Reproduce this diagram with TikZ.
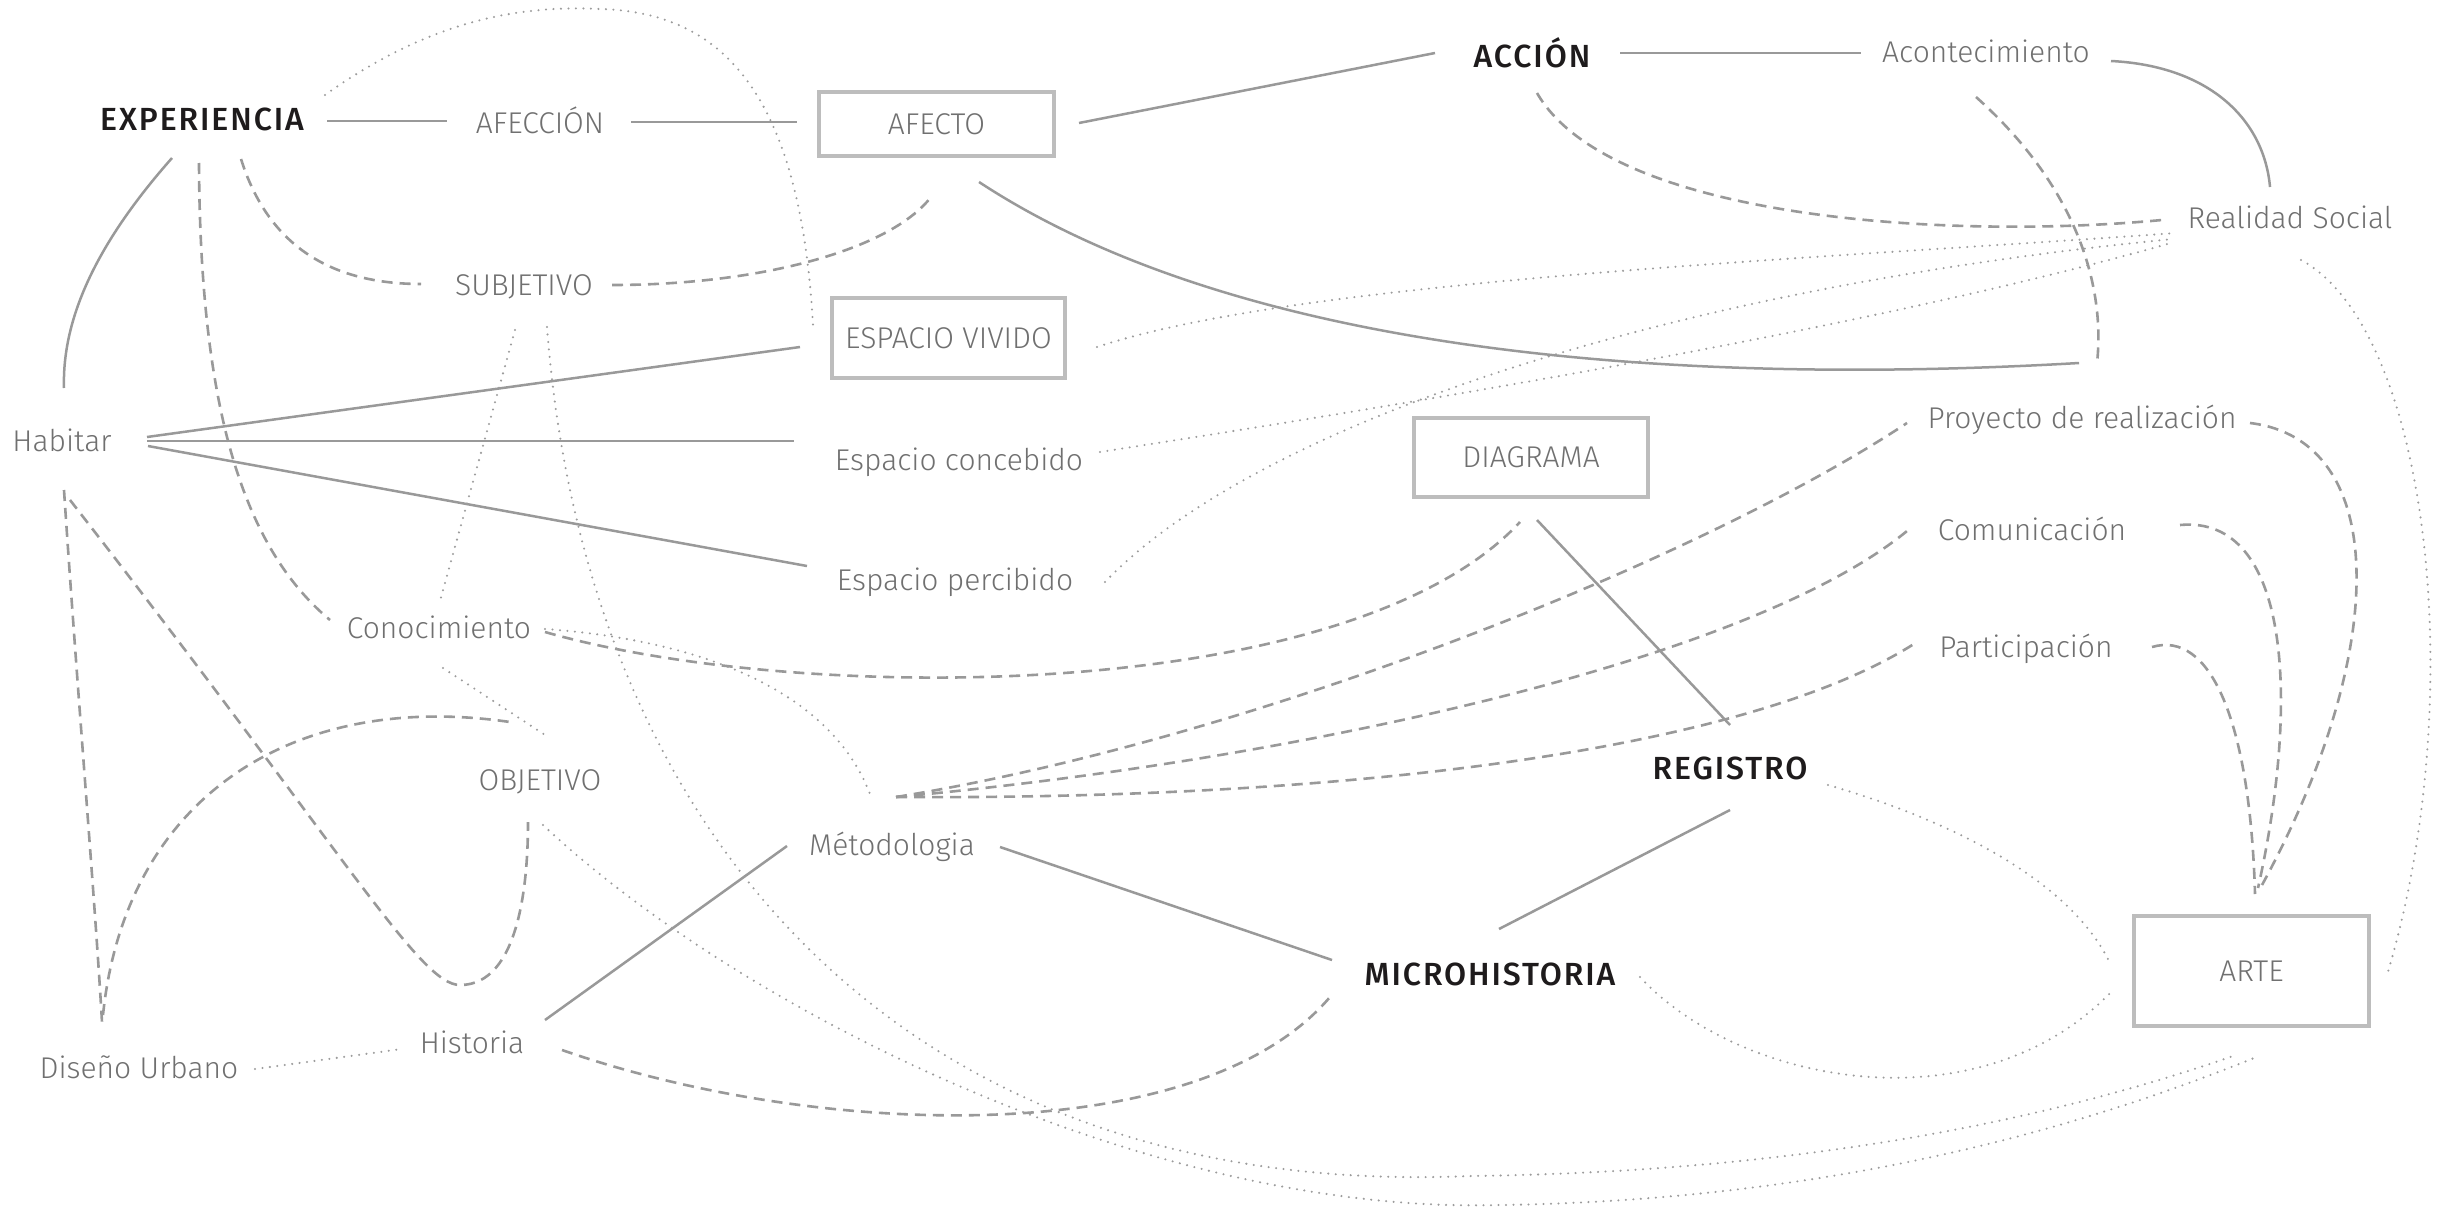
\documentclass[tikz,border=0pt]{standalone}
\usepackage{fontspec}
\IfFontExistsTF{Fira Sans Light}{\newfontfamily\lightf{Fira Sans Light}}{\newfontfamily\lightf{Fira Sans}}
\IfFontExistsTF{Fira Sans Medium}{\newfontfamily\boldf{Fira Sans Medium}[LetterSpace=6]}{\newfontfamily\boldf{Fira Sans}[LetterSpace=6]}
\definecolor{txtgray}{HTML}{707070}
\definecolor{txtdark}{HTML}{1E1B1C}
\definecolor{lngray}{HTML}{999999}
\definecolor{dotgray}{HTML}{9C9C9C}
\definecolor{boxgray}{HTML}{BDBDBD}
\tikzset{
  lbl/.style={font=\lightf\fontsize{30}{36}\selectfont, text=txtgray, inner sep=0pt, anchor=base},
  big/.style={font=\boldf\fontsize{32}{38}\selectfont, text=txtdark, inner sep=0pt, anchor=base},
  box/.style={draw=boxgray, line width=3.5pt, font=\lightf\fontsize{30}{36}\selectfont, text=txtgray, inner sep=0pt, anchor=center},
  solidln/.style={draw=lngray, line width=2.5pt},
  dashln/.style={draw=lngray, line width=2.6pt, dash pattern=on 11pt off 7pt},
  dotln/.style={draw=dotgray, line width=2.3pt, line cap=round, dash pattern=on 0pt off 7.5pt},
}
\begin{document}
\begin{tikzpicture}[x=1pt,y=-1pt]
\useasboundingbox[fill=white] (0,0) rectangle (2451,1207);
% ---------- nodes ----------
\node[big] (exp) at (202,130) {EXPERIENCIA};
\node[big] (accion) at (1532,67) {ACCIÓN};
\node[big] (registro) at (1730,779) {REGISTRO};
\node[big] (micro) at (1490,985) {MICROHISTORIA};
\node[lbl] (afeccion) at (540,133) {AFECCIÓN};
\node[lbl] (subj) at (524,295) {SUBJETIVO};
\node[lbl] (acont) at (1986,63) {Acontecimiento};
\node[lbl] (realidad) at (2290,228) {Realidad Social};
\node[lbl] (habitar) at (62,451) {Habitar};
\node[lbl] (concebido) at (959,470) {Espacio concebido};
\node[lbl] (percibido) at (955,590) {Espacio percibido};
\node[lbl] (conoc) at (439,638) {Conocimiento};
\node[lbl] (objetivo) at (540,790) {OBJETIVO};
\node[lbl] (metodo) at (892,855) {Métodologia};
\node[lbl] (historia) at (472,1053) {Historia};
\node[lbl] (diseno) at (139,1078) {Diseño Urbano};
\node[lbl] (proyecto) at (2082,428) {Proyecto de realización};
\node[lbl] (comun) at (2032,540) {Comunicación};
\node[lbl] (partic) at (2026,657) {Participación};
\node[box, minimum width=235pt, minimum height=64pt] (afecto) at (936.5,124) {AFECTO};
\node[box, minimum width=233pt, minimum height=80pt] (vivido) at (948.5,338) {ESPACIO VIVIDO};
\node[box, minimum width=234pt, minimum height=79pt] (diagrama) at (1531,457.5) {DIAGRAMA};
\node[box, minimum width=235pt, minimum height=110pt] (arte) at (2251.5,971) {ARTE};
\coordinate (junction) at (2088,363);
% ---------- solid ----------
\draw[solidln] ([shift={(125,-9)}]exp.base) -- ([shift={(-93,-12)}]afeccion.base);
\draw[solidln] ([shift={(91,-11)}]afeccion.base) -- ([shift={(-139.5,-2)}]afecto.center);
\draw[solidln] ([shift={(142.5,-1)}]afecto.center) -- ([shift={(-97,-14)}]accion.base);
\draw[solidln] ([shift={(88,-14)}]accion.base) -- ([shift={(-125,-10)}]acont.base);
\draw[solidln] ([shift={(125,-2)}]acont.base) .. controls (2210,66) and (2264,120) .. ([shift={(-20,-41)}]realidad.base);
\draw[solidln] ([shift={(42.5,58)}]afecto.center) .. controls (1250,360) and (1700,385) .. ([xshift=-9pt]junction);
\draw[solidln] ([shift={(-30,28)}]exp.base) .. controls (95,245) and (62,320) .. ([shift={(2,-63)}]habitar.base);
\draw[solidln] ([shift={(85,-14)}]habitar.base) -- ([shift={(-148.5,9)}]vivido.center);
\draw[solidln] ([shift={(85,-10)}]habitar.base) -- ([shift={(-165,-29)}]concebido.base);
\draw[solidln] ([shift={(86,-5)}]habitar.base) -- ([shift={(-148,-24)}]percibido.base);
\draw[solidln] ([shift={(6,62.5)}]diagrama.center) -- ([shift={(0,-54)}]registro.base);
\draw[solidln] ([shift={(0,31)}]registro.base) -- ([shift={(9,-56)}]micro.base);
\draw[solidln] ([shift={(108,-8)}]metodo.base) -- ([shift={(-158,-25)}]micro.base);
\draw[solidln] ([shift={(-105,-9)}]metodo.base) -- ([shift={(73,-33)}]historia.base);
% ---------- dashed ----------
\draw[dashln] ([shift={(-10,34)}]acont.base) .. controls (2080,190) and (2105,290) .. ([xshift=9pt]junction);
\draw[dashln] ([shift={(5,26)}]accion.base) .. controls (1610,220) and (1950,240) .. ([shift={(-128,-8)}]realidad.base);
\draw[dashln] ([shift={(39,29)}]exp.base) .. controls (268,245) and (330,284) .. ([shift={(-103,-11)}]subj.base);
\draw[dashln] ([shift={(88,-10)}]subj.base) .. controls (760,285) and (890,250) .. ([shift={(-5.5,73)}]afecto.center);
\draw[dashln] ([shift={(-3,33)}]exp.base) .. controls (200,400) and (240,545) .. ([shift={(-109,-18)}]conoc.base);
\draw[dashln] ([shift={(2,39)}]habitar.base) .. controls (78,700) and (95,900) .. ([shift={(-37,-56)}]diseno.base);
\draw[dashln] ([shift={(8,49)}]habitar.base) .. controls (350,860) and (420,985) .. (460,985) .. controls (520,985) and (528,880) .. ([shift={(-12,32)}]objetivo.base);
\draw[dashln] ([shift={(-36,-63)}]diseno.base) .. controls (125,800) and (290,690) .. ([shift={(-30,-68)}]objetivo.base);
\draw[dashln] ([shift={(106,-6)}]conoc.base) .. controls (800,705) and (1350,705) .. ([shift={(-11,64.5)}]diagrama.center);
\draw[dashln] ([shift={(90,-3)}]historia.base) .. controls (820,1140) and (1200,1150) .. ([shift={(-160,12)}]micro.base);
\draw[dashln] ([shift={(4,-58)}]metodo.base) .. controls (1250,740) and (1700,560) .. ([shift={(-175,-5)}]proyecto.base);
\draw[dashln] ([shift={(4,-58)}]metodo.base) .. controls (1300,760) and (1750,660) .. ([shift={(-125,-9)}]comun.base);
\draw[dashln] ([shift={(4,-58)}]metodo.base) .. controls (1350,800) and (1750,750) .. ([shift={(-109,-15)}]partic.base);
\draw[dashln] ([shift={(168,-5)}]proyecto.base) .. controls (2390,440) and (2390,650) .. ([shift={(10.5,-86)}]arte.center);
\draw[dashln] ([shift={(148,-15)}]comun.base) .. controls (2290,515) and (2300,700) .. ([shift={(6.5,-83)}]arte.center);
\draw[dashln] ([shift={(126,-10)}]partic.base) .. controls (2210,630) and (2250,720) .. ([shift={(3.5,-77)}]arte.center);
% ---------- dotted ----------
\draw[dotln] ([shift={(123,-35)}]exp.base) .. controls (430,20) and (520,5) .. (600,9) .. controls (720,12) and (800,90) .. ([shift={(-135.5,-13)}]vivido.center);
\draw[dotln] ([shift={(-9,35)}]subj.base) -- ([shift={(1,-37)}]conoc.base);
\draw[dotln] ([shift={(23,32)}]subj.base) .. controls (585,830) and (900,1200) .. (1470,1176) .. controls (1800,1172) and (2050,1120) .. ([shift={(-15.5,84)}]arte.center);
\draw[dotln] ([shift={(3,35)}]objetivo.base) .. controls (740,1010) and (1150,1215) .. (1500,1205) .. controls (1850,1200) and (2100,1120) .. ([shift={(2.5,87)}]arte.center);
\draw[dotln] ([shift={(106,-9)}]conoc.base) .. controls (700,640) and (830,690) .. ([shift={(-22,-61)}]metodo.base);
\draw[dotln] ([shift={(4,30)}]conoc.base) -- ([shift={(5,-55)}]objetivo.base);
\draw[dotln] ([shift={(116,-9)}]diseno.base) -- ([shift={(-70,-4)}]historia.base);
\draw[dotln] ([shift={(148.5,9)}]vivido.center) .. controls (1300,280) and (1800,260) .. ([shift={(-114,5)}]realidad.base);
\draw[dotln] ([shift={(141,-18)}]concebido.base) .. controls (1500,390) and (1900,320) .. ([shift={(-119,15)}]realidad.base);
\draw[dotln] ([shift={(150,-8)}]percibido.base) .. controls (1250,430) and (1650,290) .. ([shift={(-117,11)}]realidad.base);
\draw[dotln] ([shift={(11,32)}]realidad.base) .. controls (2430,330) and (2470,700) .. ([shift={(135.5,4)}]arte.center);
\draw[dotln] ([shift={(98,6)}]registro.base) .. controls (1950,820) and (2070,880) .. ([shift={(-141.5,-8)}]arte.center);
\draw[dotln] ([shift={(150,-8)}]micro.base) .. controls (1740,1085) and (1980,1130) .. ([shift={(-138.5,19)}]arte.center);
\end{tikzpicture}
\end{document}
